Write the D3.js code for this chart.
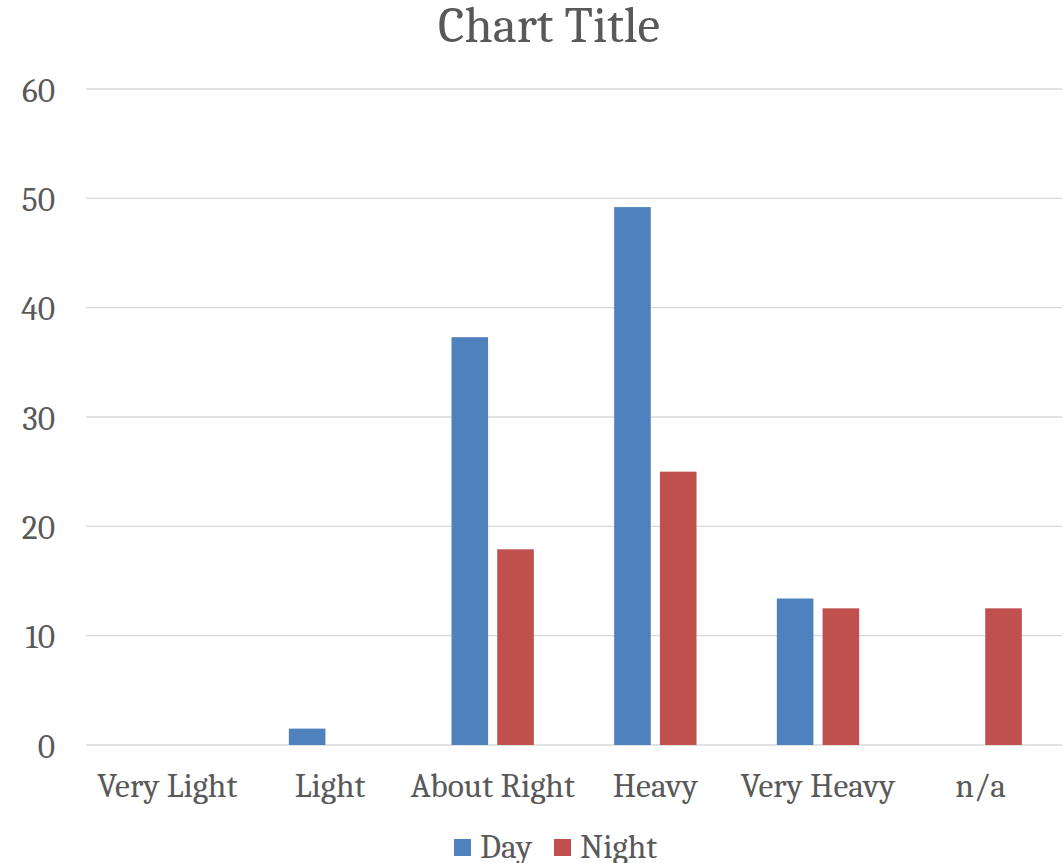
<!DOCTYPE html>
<html><head><meta charset="utf-8">
<script src="https://cdn.jsdelivr.net/npm/d3@7"></script>
<style>
  body { margin: 0; background: #fff; }
  text { font-family: Caladea, "DejaVu Serif", serif; fill: #595959; }
</style>
</head>
<body>
<svg id="chart" width="1064" height="863"></svg>
<script>
// Clustered column chart: Day vs Night ratings
const categories = ["Very Light", "Light", "About Right", "Heavy", "Very Heavy", "n/a"];
const seriesNames = ["Day", "Night"];
const dayValues = [0, 1.5, 37.3, 49.2, 13.4, 0];
const nightValues = [0, 0, 17.9, 25.0, 12.5, 12.5];
const yTicks = [0, 10, 20, 30, 40, 50, 60];
const colors = ["#4F81BD", "#C0504D"];

const svg = d3.select("#chart");
const plot = { left: 86, right: 1062, top: 89, bottom: 745 };

const x = d3.scaleBand().domain(categories).range([plot.left, plot.right]).padding(0);
const xs = d3.scaleBand().domain(seriesNames).range([0, x.bandwidth()])
  .paddingInner(0.2).paddingOuter(0.878);
const y = d3.scaleLinear().domain([0, 60]).range([plot.bottom, plot.top]);

// gridlines
svg.append("g").selectAll("line").data(yTicks).join("line")
  .attr("x1", plot.left).attr("x2", plot.right)
  .attr("y1", d => y(d)).attr("y2", d => y(d))
  .attr("stroke", "#D9D9D9").attr("stroke-width", 1.4);

// y-axis labels
const yAxis = d3.axisLeft(y).tickValues(yTicks).tickSize(0).tickPadding(0).tickFormat(d3.format("d"));
const gy = svg.append("g").attr("transform", "translate(55,0)").call(yAxis);
gy.select(".domain").remove();
gy.selectAll("text").style("font-size", "33.5px").attr("fill", "#595959")
  .style("font-family", "Caladea, 'DejaVu Serif', serif").attr("dy", "0.36em");

// bars
const rows = categories.map((c, i) => ({ cat: c, vals: [dayValues[i], nightValues[i]] }));
const groups = svg.append("g").selectAll("g").data(rows).join("g")
  .attr("transform", d => `translate(${x(d.cat)},0)`);
groups.selectAll("rect")
  .data(d => d.vals.map((v, j) => ({ key: seriesNames[j], v, j })).filter(e => e.v > 0))
  .join("rect")
  .attr("x", d => xs(d.key))
  .attr("width", xs.bandwidth())
  .attr("y", d => y(d.v))
  .attr("height", d => y(0) - y(d.v))
  .attr("fill", d => colors[d.j]);

// x-axis labels
const xAxis = d3.axisBottom(x).tickSize(0).tickPadding(0);
const gx = svg.append("g").attr("transform", `translate(0,797)`).call(xAxis);
gx.select(".domain").remove();
gx.selectAll("text").style("font-size", "33.5px").attr("fill", "#595959")
  .style("font-family", "Caladea, 'DejaVu Serif', serif").attr("dy", 0);

// title
svg.append("text").attr("x", 549).attr("y", 42).attr("text-anchor", "middle")
  .style("font-size", "51px").text("Chart Title");

// legend
const legendX = [454, 554];
const legend = svg.append("g").selectAll("g").data(seriesNames).join("g")
  .attr("transform", (d, i) => `translate(${legendX[i]},839)`);
legend.append("rect").attr("width", 17).attr("height", 17).attr("fill", (d, i) => colors[i]);
legend.append("text").attr("x", 26).attr("y", 19).style("font-size", "33.5px").text(d => d);
</script>
</body></html>
